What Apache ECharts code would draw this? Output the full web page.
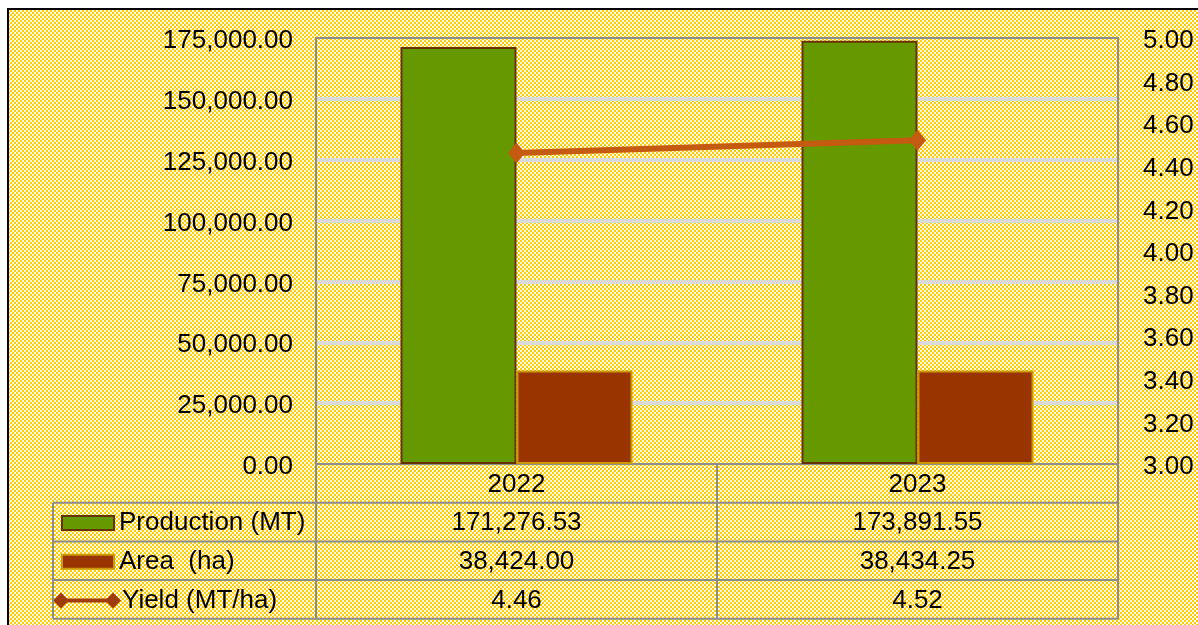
<!DOCTYPE html>
<html>
<head>
<meta charset="utf-8">
<script src="https://cdn.jsdelivr.net/npm/echarts@6/dist/echarts.min.js"></script>
<style>
html,body{margin:0;padding:0;background:#fff;}
#main{width:1198px;height:625px;}
</style>
</head>
<body>
<div id="main"></div>
<script>
// ---- data ----
const categories = ['2022', '2023'];
const production = [171276.53, 173891.55];
const area = [38424.00, 38434.25];
const yieldVals = [4.46, 4.52];
const seriesNames = ['Production (MT)', 'Area  (ha)', 'Yield (MT/ha)'];
const leftAxisRange = [0, 175000, 25000];
const rightAxisRange = [3, 5, 0.2];

// ---- layout ----
const W = 1198, H = 625;
const G = {left: 316, right: 80, top: 38, bottom: 161};
const plotL = G.left, plotR = W - G.right, plotB = H - G.bottom;
const tableLeft = 53;
const rowH = 38.7;
const FONT = '"Liberation Sans", Arial, sans-serif';
const FS = 26;
const gridColor = '#8c8c8c';

// background pattern
const pc = document.createElement('canvas');
pc.width = 4; pc.height = 4;
const pctx = pc.getContext('2d');
pctx.fillStyle = '#ffffff'; pctx.fillRect(0, 0, 4, 4);
pctx.fillStyle = '#ffcc00';
pctx.fillRect(0, 0, 2, 2); pctx.fillRect(2, 2, 2, 2);
pctx.fillStyle = '#fff3c0';
pctx.fillRect(3, 1, 1, 1); pctx.fillRect(1, 3, 1, 1);

const fmt = v => v.toLocaleString('en-US', {minimumFractionDigits: 2, maximumFractionDigits: 2});

const chart = echarts.init(document.getElementById('main'), null, {renderer: 'canvas'});

function legendFor(i, icon, left, iw, ih, itemStyle, padL) {
  const center = plotB + rowH * (i + 1.5) + 1;
  return {
    left: left, top: center - 15, padding: 0,
    selectedMode: false,
    itemWidth: iw, itemHeight: ih, itemGap: 0,
    data: [{name: seriesNames[i], icon: icon, itemStyle: itemStyle}],
    textStyle: {fontSize: FS, fontFamily: FONT, color: '#000', lineHeight: 30, padding: [0, 0, 0, padL]}
  };
}

const yLabelRich = {v: {fontSize: FS, fontFamily: FONT, color: '#000', padding: [6, 0, 0, 0]}};

const option = {
  animation: false,
  backgroundColor: 'transparent',
  grid: {left: G.left, right: G.right, top: G.top, bottom: G.bottom, show: false, containLabel: false},
  legend: [
    legendFor(0, 'rect', 61, 52, 14, undefined, 0),
    legendFor(1, 'rect', 61, 52, 14, undefined, 0),
    legendFor(2, 'path://M0,8 L8,0 L16,8 L8,16 Z M8,6 L60,6 L60,10 L8,10 Z M52,8 L60,0 L68,8 L60,16 Z', 53, 68, 17, {color: '#a03c0a', borderWidth: 0}, -4)
  ],
  xAxis: [
    {
      type: 'category', data: categories, position: 'bottom',
      axisLine: {show: true, lineStyle: {color: gridColor, width: 2}},
      axisTick: {show: false},
      axisLabel: {fontSize: FS, fontFamily: FONT, color: '#000', margin: 21, verticalAlign: 'middle'},
      splitLine: {show: false}
    },
    {
      type: 'category', data: categories, position: 'top',
      axisLine: {show: true, lineStyle: {color: gridColor, width: 2}},
      axisTick: {show: false}, axisLabel: {show: false}, splitLine: {show: false}
    }
  ],
  yAxis: [
    {
      type: 'value', min: leftAxisRange[0], max: leftAxisRange[1], interval: leftAxisRange[2],
      position: 'left',
      axisLine: {show: true, lineStyle: {color: gridColor, width: 2}},
      axisTick: {show: false},
      axisLabel: {margin: 23, formatter: v => '{v|' + fmt(v) + '}', rich: yLabelRich},
      splitLine: {show: true, showMinLine: false, showMaxLine: false, lineStyle: {color: '#dadada', width: 4}}
    },
    {
      type: 'value', min: rightAxisRange[0], max: rightAxisRange[1], interval: rightAxisRange[2],
      position: 'right',
      axisLine: {show: true, lineStyle: {color: gridColor, width: 2}},
      axisTick: {show: false},
      axisLabel: {margin: 25, formatter: v => '{v|' + v.toFixed(2) + '}', rich: yLabelRich},
      splitLine: {show: false}
    }
  ],
  series: [
    {
      name: seriesNames[0], type: 'bar', data: production, barWidth: 116, barGap: '0%',
      itemStyle: {color: '#669900', borderColor: '#663300', borderWidth: 2}, z: 2
    },
    {
      name: seriesNames[1], type: 'bar', data: area, barWidth: 116,
      itemStyle: {color: '#993300', borderColor: '#cc9900', borderWidth: 2}, z: 2
    },
    {
      name: seriesNames[2], type: 'line', yAxisIndex: 1, data: yieldVals,
      symbol: 'diamond', symbolSize: [17, 21],
      lineStyle: {color: '#c55a11', width: 6},
      itemStyle: {color: '#c55a11'}, z: 5
    }
  ]
};
chart.setOption(option);

// ---- data table (cells positioned via the category axis) ----
const centers = categories.map(c => chart.convertToPixel({xAxisIndex: 0}, c));
const bounds = [plotL];
for (let i = 0; i < centers.length - 1; i++) bounds.push((centers[i] + centers[i + 1]) / 2);
bounds.push(plotR);

const g = [];
g.push({
  type: 'rect', z: -10, silent: true,
  shape: {x: 8, y: 9, width: W, height: H + 50},
  style: {fill: {image: pc, repeat: 'repeat'}, stroke: '#000', lineWidth: 2}
});
const tableBottom = plotB + rowH * 4;
const lineStyle = {stroke: gridColor, lineWidth: 2};
for (let r = 1; r <= 4; r++) {
  const y = plotB + rowH * r;
  g.push({type: 'line', z: 10, silent: true, shape: {x1: tableLeft, y1: y, x2: plotR, y2: y}, style: lineStyle});
}
g.push({type: 'line', z: 10, silent: true, shape: {x1: tableLeft, y1: plotB + rowH, x2: tableLeft, y2: tableBottom}, style: lineStyle});
bounds.forEach(x => {
  g.push({type: 'line', z: 10, silent: true, shape: {x1: x, y1: plotB, x2: x, y2: tableBottom}, style: lineStyle});
});
const rows = [production.map(fmt), area.map(fmt), yieldVals.map(v => v.toFixed(2))];
rows.forEach((vals, r) => {
  const cy = plotB + rowH * (r + 1.5) + 1;
  vals.forEach((t, i) => {
    g.push({type: 'text', z: 10, silent: true, x: centers[i], y: cy,
      style: {text: t, fontSize: FS, fontFamily: FONT, fill: '#000', align: 'center', verticalAlign: 'middle'}});
  });
});
chart.setOption({graphic: g});
</script>
</body>
</html>
